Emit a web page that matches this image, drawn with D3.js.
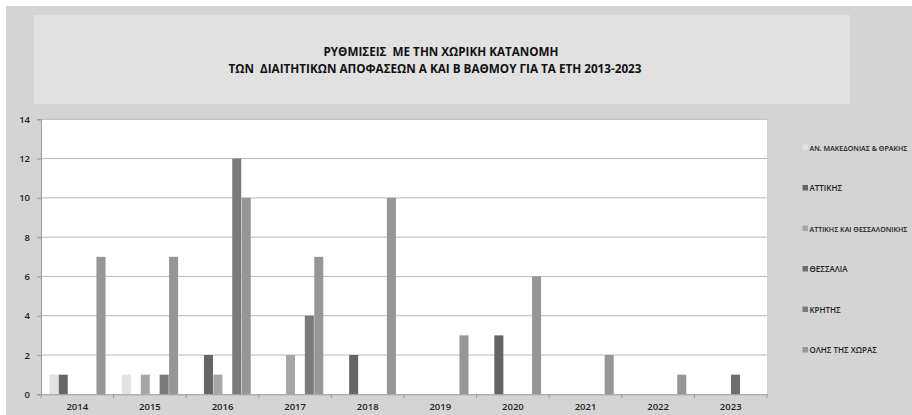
<!DOCTYPE html>
<html><head><meta charset="utf-8">
<script src="https://cdn.jsdelivr.net/npm/d3@7"></script>
<style>html,body{margin:0;padding:0;background:#fff;}svg{display:block;}</style>
</head><body><svg id="c" width="912" height="415"></svg>
<script>
const years = ["2014","2015","2016","2017","2018","2019","2020","2021","2022","2023"];
const seriesNames = ["ΑΝ. ΜΑΚΕΔΟΝΙΑΣ & ΘΡΑΚΗΣ","ΑΤΤΙΚΗΣ","ΑΤΤΙΚΗΣ ΚΑΙ ΘΕΣΣΑΛΟΝΙΚΗΣ","ΘΕΣΣΑΛΙΑ","ΚΡΗΤΗΣ","ΟΛΗΣ ΤΗΣ ΧΩΡΑΣ"];
const anMakedonias = [1,1,0,0,0,0,0,0,0,0];
const attikis      = [1,0,2,0,2,0,3,0,0,0];
const attThess     = [0,1,1,2,0,0,0,0,0,0];
const thessalia    = [0,0,0,0,0,0,0,0,0,1];
const kritis       = [0,1,12,4,0,0,0,0,0,0];
const olis         = [7,7,10,7,10,3,6,2,1,0];
const yTicks = [0,2,4,6,8,10,12,14];
const titleLines = ["ΡΥΘΜΙΣΕΙΣ  ΜΕ ΤΗΝ ΧΩΡΙΚΗ ΚΑΤΑΝΟΜΗ","ΤΩΝ  ΔΙΑΙΤΗΤΙΚΩΝ ΑΠΟΦΑΣΕΩΝ Α ΚΑΙ Β ΒΑΘΜΟΥ ΓΙΑ ΤΑ ΕΤΗ 2013-2023"];

(function(){
const seriesValues = [anMakedonias, attikis, attThess, thessalia, kritis, olis];
const colors = ["#e2e2e2","#656565","#a6a6a6","#6e6e6e","#7a7a7a","#969696"];

const svg = d3.select("#c");
const font = "'Open Sans', 'DejaVu Sans', sans-serif";

svg.append("rect").attr("x",6).attr("y",6).attr("width",906).attr("height",409).attr("fill","#d4d4d4");
svg.append("rect").attr("x",34).attr("y",15).attr("width",816).attr("height",89).attr("fill","#e1e1e1");

const tl = [[55.5,235,441],[72.5,413,435]];
titleLines.forEach((t,i)=>{
  svg.append("text").attr("x",tl[i][2]).attr("y",tl[i][0]).attr("text-anchor","middle")
    .attr("font-family",font).attr("font-weight","bold").attr("font-size",11.5)
    .attr("fill","#111").attr("textLength",tl[i][1]).attr("lengthAdjust","spacingAndGlyphs")
    .style("white-space","pre").text(t);
});

const pL=41, pR=767, pT=119.3, pB=394.3;
svg.append("rect").attr("x",pL).attr("y",pT).attr("width",pR-pL).attr("height",pB-pT).attr("fill","#fff");

const x0 = d3.scaleBand().domain(years).range([pL,pR]).paddingInner(0).paddingOuter(0);
const x1 = d3.scaleBand().domain(d3.range(seriesNames.length)).range([8.3, x0.bandwidth()-7.7]).padding(0);
const y = d3.scaleLinear().domain([0,14]).range([pB,pT]);

svg.append("g").selectAll("line").data(yTicks.filter(d=>d>0)).join("line")
  .attr("x1",pL).attr("x2",pR).attr("y1",d=>y(d)).attr("y2",d=>y(d))
  .attr("stroke","#b8b8b8").attr("stroke-width",1);

const g = svg.append("g");
seriesValues.forEach((vals,si)=>{
  g.selectAll(null).data(years.map((yr,i)=>({yr,v:vals[i]})).filter(d=>d.v>0)).join("rect")
    .attr("x",d=>x0(d.yr)+x1(si)).attr("width",x1.bandwidth()-0.4)
    .attr("y",d=>y(d.v)).attr("height",d=>pB-y(d.v)).attr("fill",colors[si]);
});

const ya = svg.append("g").attr("transform",`translate(${pL},0)`)
  .call(d3.axisLeft(y).tickValues(yTicks).tickSize(4).tickPadding(7));
ya.select(".domain").attr("stroke","#9a9a9a");
ya.selectAll(".tick line").attr("stroke","#9a9a9a");
ya.selectAll("text").attr("font-family",font).attr("font-size",9.5).attr("fill","#222").attr("font-weight","600");

const xa = svg.append("g").attr("transform",`translate(0,${pB})`)
  .call(d3.axisBottom(x0).tickSize(0).tickPadding(9));
xa.select(".domain").attr("stroke","#9a9a9a");
xa.selectAll("text").attr("font-family",font).attr("font-size",9.5).attr("fill","#222").attr("font-weight","600");
svg.append("g").selectAll("line").data(years.concat(["end"])).join("line")
  .attr("x1",(d,i)=>pL+i*x0.bandwidth()).attr("x2",(d,i)=>pL+i*x0.bandwidth())
  .attr("y1",pB).attr("y2",pB+4).attr("stroke","#9a9a9a");

const lg = svg.append("g");
seriesNames.forEach((n,i)=>{
  const yy = 147.5 + i*40.5;
  lg.append("rect").attr("x",802.5).attr("y",yy-3).attr("width",5.5).attr("height",5.5).attr("fill",colors[i]);
  const t = lg.append("text").attr("x",809.5).attr("y",yy+3).attr("font-family",font).attr("font-size",8)
    .attr("font-weight","600").attr("fill","#222").text(n);
  const w = t.node().getComputedTextLength();
  if (w > 98) t.attr("font-size", 8*98/w);
});
})();
</script></body></html>
